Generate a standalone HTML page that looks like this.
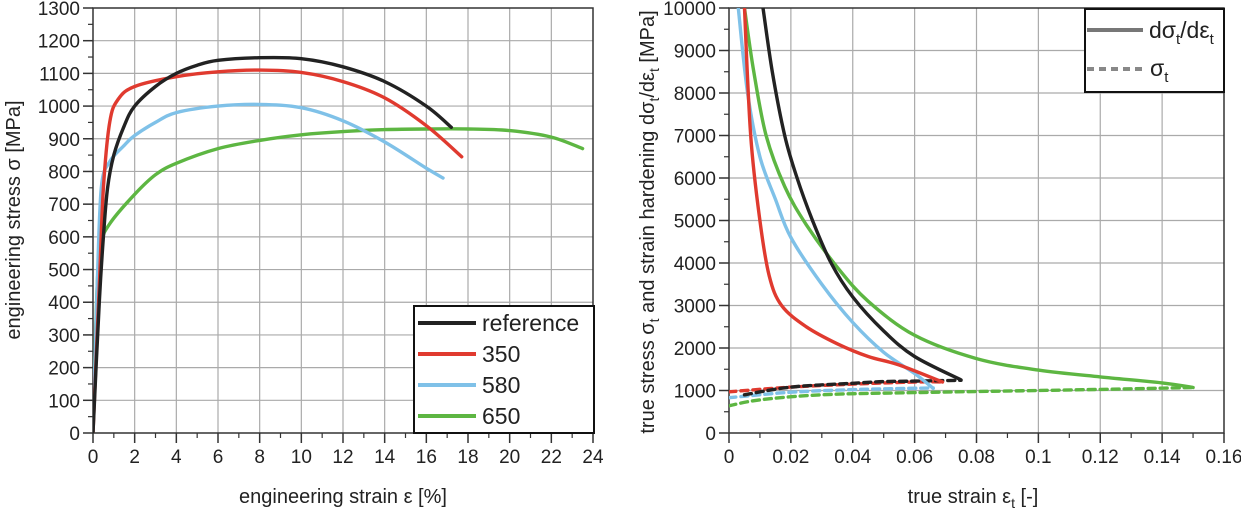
<!DOCTYPE html>
<html><head><meta charset="utf-8"><style>
body{margin:0;background:#fff;width:1241px;height:515px;overflow:hidden;font-family:"Liberation Sans",sans-serif;}
svg text{font-family:"Liberation Sans",sans-serif;fill:#222;}
</style></head><body>
<svg id="c" width="1241" height="515"></svg>
<script>
// Left chart data
const lCats=['reference','350','580','650'];
const lColors=['#222222','#e03a2f','#7fc1e8','#5db642'];
const lRefX=[0,0.3,0.5,0.7,1,1.5,2,3,4,5,6,8,10,12,14,16,17.2];
const lRefY=[0,400,600,750,850,940,1000,1060,1100,1125,1140,1148,1145,1120,1075,1000,935];
const l350X=[0,0.3,0.5,0.8,1.2,2,4,6,8,10,12,14,16,17.7];
const l350Y=[0,450,750,950,1020,1060,1090,1105,1110,1103,1075,1025,940,845];
const l580X=[0,0.2,0.4,0.8,1.5,2,3,4,6,8,10,12,14,16,16.8];
const l580Y=[0,450,750,830,880,910,950,980,1000,1005,995,955,890,810,780];
const l650X=[0,0.2,0.4,0.8,2,3,4,6,8,10,12,14,16,18,20,22,23.5];
const l650Y=[0,450,580,640,730,790,825,870,895,912,922,928,930,930,925,905,870];
const lXTicks=[0,2,4,6,8,10,12,14,16,18,20,22,24];
const lYTicks=[0,100,200,300,400,500,600,700,800,900,1000,1100,1200,1300];
// Right chart data
const rXTicks=[0,0.02,0.04,0.06,0.08,0.1,0.12,0.14,0.16];
const rXLabels=['0','0.02','0.04','0.06','0.08','0.1','0.12','0.14','0.16'];
const rYTicks=[0,1000,2000,3000,4000,5000,6000,7000,8000,9000,10000];
const rHRefX=[0.011,0.014,0.018,0.022,0.027,0.033,0.04,0.05,0.06,0.075];
const rHRefY=[10000,8500,7000,6000,5000,4000,3200,2400,1800,1250];
const rH350X=[0.005,0.007,0.01,0.013,0.017,0.025,0.035,0.045,0.055,0.069];
const rH350Y=[10000,7000,5000,3700,3000,2500,2100,1800,1600,1200];
const rH580X=[0.003,0.006,0.01,0.015,0.02,0.03,0.04,0.05,0.06,0.066];
const rH580Y=[10000,8000,6500,5500,4600,3500,2600,1900,1400,1050];
const rH650X=[0.005,0.008,0.012,0.018,0.025,0.035,0.045,0.06,0.08,0.1,0.12,0.14,0.15];
const rH650Y=[10000,8500,7000,5800,4900,3900,3100,2300,1750,1480,1320,1180,1070];
const rSRefX=[0.005,0.02,0.04,0.05,0.06,0.075];
const rSRefY=[900,1080,1170,1210,1220,1240];
const rS350X=[0,0.02,0.04,0.06,0.069];
const rS350Y=[970,1080,1150,1200,1200];
const rS580X=[0,0.02,0.04,0.066];
const rS580Y=[830,960,1020,1060];
const rS650X=[0,0.01,0.03,0.06,0.1,0.13,0.15];
const rS650Y=[640,780,900,950,1000,1040,1070];

const NS='http://www.w3.org/2000/svg';
const svg=document.getElementById('c');
function el(tag,attrs,parent){const e=document.createElementNS(NS,tag);for(const k in attrs)e.setAttribute(k,attrs[k]);(parent||svg).appendChild(e);return e;}
function txt(s,x,y,size,anchor,name,parent){const t=el('text',{x:x,y:y,'font-size':size,'text-anchor':anchor||'middle'},parent);t.textContent=s;


return t;}

function axes(g,L,R,T,B,xmin,xmax,ymin,ymax,xt,xl,yt){
  const sx=v=>L+(v-xmin)/(xmax-xmin)*(R-L);
  const sy=v=>B-(v-ymin)/(ymax-ymin)*(B-T);
  xt.forEach(v=>{if(v>xmin&&v<xmax){const l=el('line',{x1:sx(v),x2:sx(v),y1:T,y2:B,stroke:'#aaa','stroke-width':1.2},g);}});
  yt.forEach(v=>{if(v>ymin&&v<ymax){const l=el('line',{x1:L,x2:R,y1:sy(v),y2:sy(v),stroke:'#aaa','stroke-width':1.2},g);}});
  const f=el('rect',{x:L,y:T,width:R-L,height:B-T,fill:'none',stroke:'#333','stroke-width':1.5},g);
  
  xt.forEach((v,i)=>{el('line',{x1:sx(v),x2:sx(v),y1:B,y2:B+10,stroke:'#333','stroke-width':1.5},g);
    txt(xl[i],sx(v),B+30,19,'middle','x-tick-label',g);});
  for(let i=0;i<xt.length-1;i++){const m=(xt[i]+xt[i+1])/2;el('line',{x1:sx(m),x2:sx(m),y1:B,y2:B+5,stroke:'#333','stroke-width':1.2},g);}
  yt.forEach(v=>{el('line',{x1:L-10,x2:L,y1:sy(v),y2:sy(v),stroke:'#333','stroke-width':1.5},g);
    txt(String(v),L-13,sy(v)+7,19,'end','y-tick-label',g);});
  for(let i=0;i<yt.length-1;i++){const m=(yt[i]+yt[i+1])/2;el('line',{x1:L-5,x2:L,y1:sy(m),y2:sy(m),stroke:'#333','stroke-width':1.2},g);}
  return [sx,sy];
}
function path(g,xs,ys,sx,sy,color,dash,name){
  const P=xs.map((x,i)=>[sx(x),sy(ys[i])]);
  let d='M'+P[0][0].toFixed(1)+','+P[0][1].toFixed(1);
  for(let i=0;i<P.length-1;i++){
    const p0=P[Math.max(0,i-1)],p1=P[i],p2=P[i+1],p3=P[Math.min(P.length-1,i+2)];
    const c1=[p1[0]+(p2[0]-p0[0])/6,p1[1]+(p2[1]-p0[1])/6];
    const c2=[p2[0]-(p3[0]-p1[0])/6,p2[1]-(p3[1]-p1[1])/6];
    d+='C'+c1.map(v=>v.toFixed(1)).join(',')+' '+c2.map(v=>v.toFixed(1)).join(',')+' '+p2.map(v=>v.toFixed(1)).join(',');
  }
  const p=el('path',{d:d,fill:'none',stroke:color,'stroke-width':3.4,'stroke-linejoin':'round','stroke-linecap':'round'},g);
  if(dash)p.setAttribute('stroke-dasharray','7,5');
  
  
}

// Left chart
const gl=el('g',{});


const [lx,ly]=axes(gl,93,593,8,433,0,24,0,1300,lXTicks,lXTicks.map(String),lYTicks);
const clipL=el('clipPath',{id:'cl'},gl);el('rect',{x:93,y:8,width:500,height:425},clipL);
const gL=el('g',{'clip-path':'url(#cl)'},gl);
path(gL,l650X,l650Y,lx,ly,lColors[3],false,'curve-650');
path(gL,l580X,l580Y,lx,ly,lColors[2],false,'curve-580');
path(gL,l350X,l350Y,lx,ly,lColors[1],false,'curve-350');
path(gL,lRefX,lRefY,lx,ly,lColors[0],false,'curve-reference');
const lg=el('g',{},gl);


el('rect',{x:414,y:306,width:180,height:127,fill:'#fff',stroke:'#111','stroke-width':2},lg);
lCats.forEach((c,i)=>{const y=323+i*31;
  const l=el('line',{x1:418,x2:476,y1:y,y2:y,stroke:lColors[i],'stroke-width':4},lg);
  
  txt(c,482,y+8,23,'start','legend-entry-'+c,lg);});
txt('engineering strain ε [%]',343,503,20,'middle','x-axis-title');
const lyt=txt('engineering stress σ [MPa]',0,0,20,'middle','y-axis-title');
lyt.setAttribute('transform','translate(20,220) rotate(-90)');

// Right chart
const gr=el('g',{});


const [rx,ry]=axes(gr,729,1224,8,433,0,0.16,0,10000,rXTicks,rXLabels,rYTicks);
const clipR=el('clipPath',{id:'cr'},gr);el('rect',{x:729,y:8,width:495,height:425},clipR);
const gR=el('g',{'clip-path':'url(#cr)'},gr);
path(gR,rS650X,rS650Y,rx,ry,lColors[3],true,'sigma-650');
path(gR,rS580X,rS580Y,rx,ry,lColors[2],true,'sigma-580');
path(gR,rS350X,rS350Y,rx,ry,lColors[1],true,'sigma-350');
path(gR,rSRefX,rSRefY,rx,ry,lColors[0],true,'sigma-reference');
path(gR,rH650X,rH650Y,rx,ry,lColors[3],false,'hardening-650');
path(gR,rH580X,rH580Y,rx,ry,lColors[2],false,'hardening-580');
path(gR,rH350X,rH350Y,rx,ry,lColors[1],false,'hardening-350');
path(gR,rHRefX,rHRefY,rx,ry,lColors[0],false,'hardening-reference');
const rg=el('g',{},gr);


el('rect',{x:1085,y:9,width:139,height:83,fill:'#fff',stroke:'#111','stroke-width':2},rg);
el('line',{x1:1087,x2:1143,y1:30,y2:30,stroke:'#777','stroke-width':4},rg);
el('line',{x1:1087,x2:1143,y1:69,y2:69,stroke:'#888','stroke-width':4,'stroke-dasharray':'7,5'},rg);
const t1=txt('',1149,38,23,'start','legend-entry-hardening',rg);
t1.innerHTML='dσ<tspan font-size="15" dy="6">t</tspan><tspan dy="-6">/dε</tspan><tspan font-size="15" dy="6">t</tspan>';
const t2=txt('',1150,76,23,'start','legend-entry-true-stress',rg);
t2.innerHTML='σ<tspan font-size="15" dy="6">t</tspan>';
const rxt=txt('',973,503,20,'middle','x-axis-title-right');
rxt.innerHTML='true strain ε<tspan font-size="14" dy="5">t</tspan><tspan dy="-5"> [-]</tspan>';
const ryt=txt('',0,0,20,'middle','y-axis-title-right');
ryt.innerHTML='true stress σ<tspan font-size="14" dy="5">t</tspan><tspan dy="-5"> and strain hardening dσ</tspan><tspan font-size="14" dy="5">t</tspan><tspan dy="-5">/dε</tspan><tspan font-size="14" dy="5">t</tspan><tspan dy="-5"> [MPa]</tspan>';
ryt.setAttribute('transform','translate(654,222) rotate(-90)');
</script>
</body></html>
